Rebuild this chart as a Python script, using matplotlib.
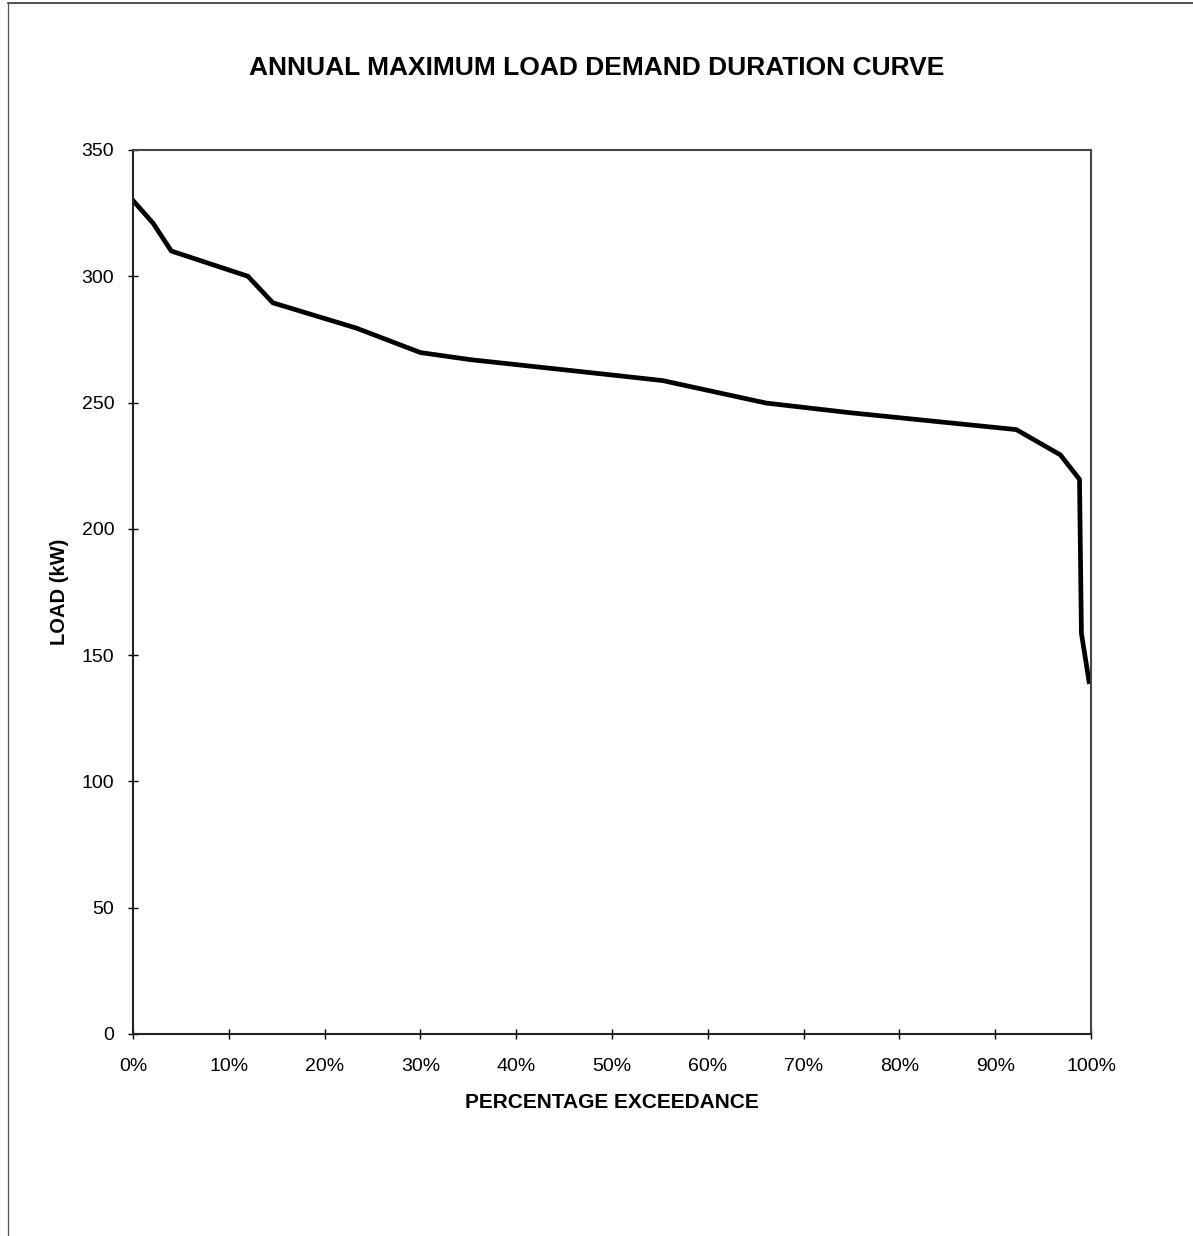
import matplotlib
matplotlib.use("Agg")
import matplotlib.pyplot as plt
from matplotlib.ticker import FuncFormatter
from matplotlib.lines import Line2D

plt.rcParams['font.family'] = ['Liberation Sans', 'DejaVu Sans']

exceedance_pct = [0, 2.1, 4.0, 12.0, 14.6, 23.3, 30.0, 35.2, 49.8, 55.3, 66.1, 74.8, 92.2, 96.8, 98.8, 99.0, 99.8]
load_kw = [330, 321, 310, 300, 289.5, 279.5, 269.8, 267, 261, 258.7, 249.8, 246, 239.3, 229.3, 219.6, 158.6, 139.5]

x_ticks = [0, 10, 20, 30, 40, 50, 60, 70, 80, 90, 100]
y_ticks = [0, 50, 100, 150, 200, 250, 300, 350]

fig = plt.figure(figsize=(11.93, 12.36), dpi=100)
ax = fig.add_axes([133/1193, 1 - 1034/1236, (1091-133)/1193, (1034-150)/1236])

ax.plot(exceedance_pct, load_kw, color='black', linewidth=3.4, solid_joinstyle='round')

ax.set_xlim(0, 100)
ax.set_ylim(0, 350)
ax.set_xticks(x_ticks)
ax.set_yticks(y_ticks)
ax.xaxis.set_major_formatter(FuncFormatter(lambda v, p: f"{int(v)}%"))
ax.tick_params(axis='both', direction='inout', length=7, width=1, labelsize=14, colors='black')
ax.tick_params(axis='x', pad=14)
ax.tick_params(axis='y', pad=10)

for side in ['top', 'right']:
    ax.spines[side].set_linestyle((0, (1, 1)))
    ax.spines[side].set_color('#444444')
    ax.spines[side].set_linewidth(1.5)
for side in ['left', 'bottom']:
    ax.spines[side].set_color('#222222')
    ax.spines[side].set_linewidth(1.5)

ax.set_xlabel('PERCENTAGE EXCEEDANCE', fontsize=15, fontweight='bold', labelpad=13)
ax.set_ylabel('LOAD (kW)', fontsize=14.5, fontweight='bold', labelpad=9)

fig.text(0.5, 1 - 68/1236, 'ANNUAL MAXIMUM LOAD DEMAND DURATION CURVE',
         ha='center', va='center', fontsize=19, fontweight='bold')

# page border from the scan
fig.add_artist(Line2D([8/1193, 1.0], [1 - 3/1236, 1 - 3/1236], transform=fig.transFigure,
                      color='#333333', linewidth=1.2))
fig.add_artist(Line2D([8/1193, 8/1193], [0, 1 - 3/1236], transform=fig.transFigure,
                      color='#555555', linewidth=0.9))

fig.savefig('out.png', dpi=100)
